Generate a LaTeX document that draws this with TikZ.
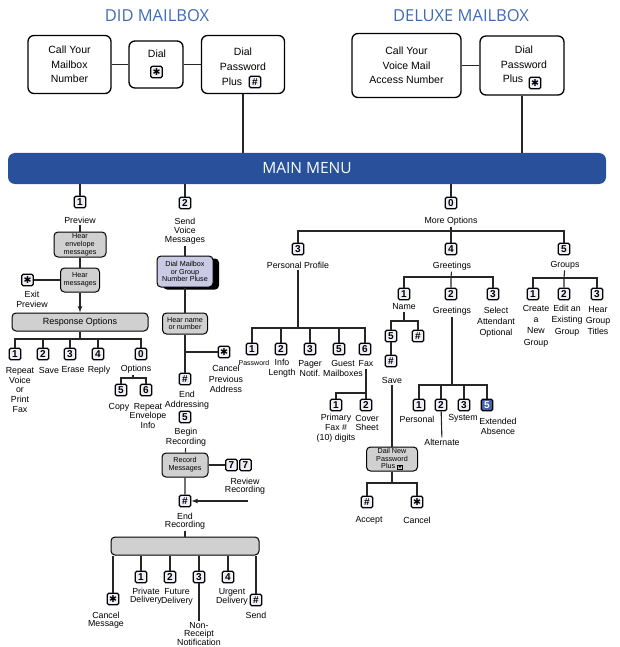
\documentclass[tikz,border=0pt]{standalone}
\usepackage{fontspec}
\setmainfont{Liberation Sans}
\newfontfamily\headfont{Open Sans}
\newfontfamily\symfont{DejaVu Sans}
\usetikzlibrary{shadows}

\definecolor{menublue}{RGB}{40,80,155}
\definecolor{headblue}{RGB}{62,108,180}
\definecolor{boxgray}{RGB}{208,208,208}
\definecolor{dialfill}{RGB}{202,202,228}
\definecolor{keyfill}{RGB}{238,238,246}
\definecolor{keyblue}{RGB}{72,96,172}

\setlength{\fboxsep}{0.6pt}
\setlength{\fboxrule}{0.5pt}
\newcommand{\starkey}{{\symfont\fontsize{9.5}{9.5}\selectfont ✱}}

\tikzset{
  topbox/.style={draw, line width=1.3pt, rounded corners=6pt, fill=white, align=center, inner sep=0pt, font=\fontsize{10.5}{14.7}\selectfont},
  boxtxt/.style={align=center, inner sep=0pt, font=\fontsize{10.5}{14.7}\selectfont},
  keybox/.style={draw, line width=1.3pt, rounded corners=1.5pt, fill=keyfill, minimum size=11.5pt, inner sep=0pt, font=\bfseries\fontsize{10}{10}\selectfont},
  bluekey/.style={keybox, fill=keyblue, text=white},
  graybox/.style={draw, line width=1pt, rounded corners=4pt, fill=boxgray, align=center, inner sep=0pt, font=\fontsize{7.2}{7.8}\selectfont},
  dialbox/.style={graybox, fill=dialfill, drop shadow={shadow xshift=6pt, shadow yshift=-2.5pt, fill=black, opacity=1}},
  lbl/.style={align=center, inner sep=0pt, outer sep=1.5pt, font=\fontsize{8.8}{9.8}\selectfont},
  tight/.style={font=\fontsize{8.8}{8.4}\selectfont},
  heading/.style={text=headblue, font=\headfont\fontsize{16.5}{16.5}\selectfont},
  wire/.style={line width=1.1pt, black!85},
}

\begin{document}
\begin{tikzpicture}[x=1pt,y=-1pt]
\useasboundingbox (0,0) rectangle (620,647);

\node [heading] (tdid) at (157,16) {DID MAILBOX};
\node [heading] (tdlx) at (461,16) {DELUXE MAILBOX};

\node [topbox, minimum width=83pt, minimum height=58pt] (call) at (69.5,64.5) {Call Your\\Mailbox\\Number};
\node [topbox, minimum width=54pt, minimum height=47pt] (dial) at (156,64.5) {};
\node [boxtxt] (tdial) at (157,54) {Dial};
\node [keybox] (kdial) at (156.5,72) {\starkey};
\node [topbox, minimum width=83pt, minimum height=58pt] (dpw) at (243,64.5) {};
\node [boxtxt] (tdpw) at (243,59.5) {Dial\\Password};
\node [boxtxt] (tplus) at (232,82) {Plus};
\node [keybox] (kdpw) at (255,82) {\#};
\draw [wire] (call) -- (dial) -- (dpw);

\node [topbox, minimum width=109pt, minimum height=64pt] (cvm) at (406.5,65.5) {Call Your\\Voice Mail\\Access Number};
\node [topbox, minimum width=84pt, minimum height=59pt] (dpx) at (522,65.5) {};
\node [boxtxt] (tdpx) at (524,57) {Dial\\Password};
\node [boxtxt] (tplx) at (513,79) {Plus};
\node [keybox] (kdpx) at (535,83) {\starkey};
\draw [wire] (cvm) -- (dpx);

\node [fill=menublue, rounded corners=7pt, minimum width=598pt, minimum height=31pt, text=white, font=\headfont\fontsize{15.5}{15.5}\selectfont] (menu) at (307,168.5) {MAIN MENU};
\draw [wire] (dpw) -- (dpw |- menu.north);
\draw [wire] (dpx) -- (dpx |- menu.north);

\node [keybox] (k1p) at (80,202) {1};
\node [lbl] (lprev) at (80,220) {Preview};
\node [graybox, minimum width=52pt, minimum height=25pt] (henv) at (80,244.5) {Hear\\envelope\\messages};
\node [graybox, minimum width=39pt, minimum height=24pt] (hmsg) at (80,280) {Hear\\messages};
\node [keybox] (kexit) at (27.5,280) {\starkey};
\node [lbl] (lexit) at (32,299) {Exit\\Preview};
\node [graybox, minimum width=136pt, minimum height=18pt, font=\fontsize{9}{9}\selectfont] (resp) at (80,322) {Response Options};
\coordinate (bresp) at (80,339);
\node [keybox] (kr1) at (15,354) {1};
\node [keybox] (kr2) at (43,354) {2};
\node [keybox] (kr3) at (70,354) {3};
\node [keybox] (kr4) at (98,354) {4};
\node [keybox] (kr0) at (141,354) {0};
\node [lbl] (lrep) at (20,390) {Repeat\\Voice\\or\\Print\\Fax};
\node [lbl] (lsave) at (49,370) {Save};
\node [lbl] (lerase) at (73,370) {Erase};
\node [lbl] (lreply) at (99,370) {Reply};
\node [lbl] (lopt) at (136,369) {Options};
\coordinate (bopt) at (133,378);
\node [keybox] (kc5) at (121,390) {5};
\node [keybox] (kc6) at (146,390) {6};
\node [lbl] (lcopy) at (119,407) {Copy};
\node [lbl] (lrenv) at (148,416) {Repeat\\Envelope\\Info};
\draw [wire] (menu.south -| k1p) -- (k1p);
\draw [wire] (lprev) -- (henv) -- (hmsg) -- (kexit);
\draw [wire, -latex] (hmsg) -- (resp);
\draw [wire] (resp) -- (bresp);
\draw [wire] (kr1) |- (bresp) -| (kr0);
\draw [wire] (kr2) -- (kr2 |- bresp);
\draw [wire] (kr3) -- (kr3 |- bresp);
\draw [wire] (kr4) -- (kr4 |- bresp);
\draw [wire] (lopt.south -| bopt) -- (bopt);
\draw [wire] (kc5) |- (bopt) -| (kc6);

\node [keybox] (k2) at (185,203) {2};
\node [lbl, font=\fontsize{8.8}{9.2}\selectfont] (lsend) at (185,231) {Send\\Voice\\Messages};
\node [dialbox, minimum width=56pt, minimum height=31pt] (dmb) at (185,271.5) {Dial Mailbox\\or Group\\Number Pluse};
\node [graybox, minimum width=45pt, minimum height=21pt] (hn) at (185,323.5) {Hear name\\or number};
\coordinate (bhn) at (185,352);
\node [keybox] (kcan) at (224,352) {\starkey};
\node [lbl, font=\fontsize{8.8}{10.8}\selectfont] (lcan) at (226,379) {Cancel\\Previous\\Address};
\node [keybox] (kea) at (185,379) {\#};
\node [lbl] (lea) at (187,400.5) {End\\Addressing};
\node [keybox] (kbr) at (185,417) {5};
\node [lbl] (lbr) at (186,437.5) {Begin\\Recording};
\node [graybox, minimum width=46pt, minimum height=24pt] (recm) at (185,465) {Record\\Messages};
\node [keybox] (k7a) at (231.5,465) {7};
\node [keybox] (k7b) at (245.5,465) {7};
\node [lbl, tight] (lrev) at (245,486.5) {Review\\Recording};
\node [keybox] (kend) at (185,501) {\#};
\coordinate (arrin) at (248,501);
\node [lbl, tight] (lend) at (185,521.5) {End\\Recording};
\node [graybox, minimum width=148pt, minimum height=18pt] (sbox) at (185,546) {};
\node [keybox] (kcm) at (113,599) {\starkey};
\node [lbl, tight] (lcm) at (106,620) {Cancel\\Message};
\node [keybox] (ks1) at (141,577) {1};
\node [lbl, tight] (lpd) at (146,596.5) {Private\\Delivery};
\node [keybox] (ks2) at (170,577) {2};
\node [lbl, tight] (lfd) at (177,597) {Future\\Delivery};
\node [keybox] (ks3) at (199,577) {3};
\node [lbl, tight] (lnr) at (199,634) {Non-\\Receipt\\Notification};
\node [keybox] (ks4) at (228,577) {4};
\node [lbl, tight] (lud) at (232,597) {Urgent\\Delivery};
\node [keybox] (ksnd) at (256,600) {\#};
\node [lbl] (lsnd) at (256,615) {Send};
\draw [wire] (menu.south -| k2) -- (k2);
\draw [wire] (lsend) -- (dmb) -- (hn) -- (kea);
\draw [wire] (bhn) -- (kcan);
\draw [wire] (lbr) -- (recm) -- (kend);
\draw [wire] (recm) -- (k7a);
\draw [wire, -latex] (arrin) -- (kend);
\draw [wire] (lend) -- (sbox);
\draw [wire] (sbox.south -| kcm) -- (kcm);
\draw [wire] (sbox.south -| ks1) -- (ks1);
\draw [wire] (sbox.south -| ks2) -- (ks2);
\draw [wire] (sbox.south -| ks3) -- (ks3) -- (lnr);
\draw [wire] (sbox.south -| ks4) -- (ks4);
\draw [wire] (sbox.south -| ksnd) -- (ksnd);

\node [keybox] (k0) at (451,203) {0};
\node [lbl] (lmore) at (451,221) {More Options};
\coordinate (bmore) at (451,231);
\node [keybox] (k3p) at (298,249) {3};
\node [lbl] (lpp) at (298,265) {Personal Profile};
\node [keybox] (k4g) at (451,249) {4};
\node [lbl] (lgr) at (452,266) {Greetings};
\node [keybox] (k5g) at (564,249) {5};
\node [lbl] (lgrp) at (565,265) {Groups};
\draw [wire] (menu.south -| k0) -- (k0);
\draw [wire] (lmore) -- (k4g);
\draw [wire] (k3p) |- (bmore) -| (k5g);

\coordinate (bpp) at (298,328);
\node [keybox] (kp1) at (252,349) {1};
\node [keybox] (kp2) at (281,349) {2};
\node [keybox] (kp3) at (310,349) {3};
\node [keybox] (kp5) at (339,349) {5};
\node [keybox] (kp6) at (365,349) {6};
\node [lbl, font=\fontsize{7}{8}\selectfont] (lpw) at (254,363) {Password};
\node [lbl] (lil) at (282,368.5) {Info\\Length};
\node [lbl] (lpn) at (310,368.5) {Pager\\Notif.};
\node [lbl] (lgm) at (343,368.5) {Guest\\Mailboxes};
\node [lbl] (lfax) at (366,364) {Fax};
\coordinate (bfax) at (366,393);
\node [keybox] (kf1) at (336,405) {1};
\node [keybox] (kf2) at (366,405) {2};
\node [lbl] (lprim) at (336,428) {Primary\\Fax \#\\(10) digits};
\node [lbl] (lcov) at (367,423) {Cover\\Sheet};
\draw [wire] (lpp) -- (bpp);
\draw [wire] (kp1) |- (bpp) -| (kp6);
\draw [wire] (kp2) -- (kp2 |- bpp);
\draw [wire] (kp3) -- (kp3 |- bpp);
\draw [wire] (kp5) -- (kp5 |- bpp);
\draw [wire] (lfax) -- (bfax) -- (kf2);
\draw [wire] (kf1) |- (bfax);

\coordinate (bgr) at (451,277);
\node [keybox] (kn1) at (404,294) {1};
\node [keybox] (kg2) at (451,294) {2};
\node [keybox] (kg3) at (493,294) {3};
\node [lbl] (lname) at (404,307) {Name};
\node [lbl] (lgr2) at (452,311) {Greetings};
\node [lbl, font=\fontsize{8.8}{11}\selectfont] (lsel) at (496,322) {Select\\Attendant\\Optional};
\draw [wire] (lgr) -- (bgr) -- (kg2);
\draw [wire] (kn1) |- (bgr) -| (kg3);

\coordinate (bname) at (404,321);
\node [keybox] (kn5) at (391,336) {5};
\node [keybox] (knh) at (418,336) {\#};
\node [keybox] (kns) at (391,361) {\#};
\node [lbl] (lsv) at (392,380) {Save};
\node [graybox, minimum width=51pt, minimum height=24pt] (dnp) at (392,459) {Dail New\\Password\\Plus \fbox{\symfont\fontsize{4}{4}\selectfont ✱}};
\coordinate (bdnp) at (392,483);
\node [keybox] (kacc) at (367,502) {\#};
\node [keybox] (kcnc) at (417,502) {\starkey};
\node [lbl] (lacc) at (369,520) {Accept};
\node [lbl] (lcnc) at (417,520) {Cancel};
\draw [wire] (lname) -- (bname);
\draw [wire] (kn5) |- (bname) -| (knh);
\draw [wire] (kn5) -- (kns);
\draw [wire] (lsv) -- (dnp) -- (bdnp);
\draw [wire] (kacc) |- (bdnp) -| (kcnc);

\coordinate (bgr2) at (452,385);
\node [keybox] (kgp1) at (419,405) {1};
\node [keybox] (kgp2) at (441,405) {2};
\node [keybox] (kgp3) at (464,405) {3};
\node [bluekey] (kgp5) at (487,405) {5};
\node [lbl] (lpers) at (417,419) {Personal};
\node [lbl] (lsys) at (463,418) {System};
\node [lbl] (lext) at (498,426.5) {Extended\\Absence};
\node [lbl] (lalt) at (442,442) {Alternate};
\draw [wire] (lgr2) -- (bgr2);
\draw [wire] (kgp1) |- (bgr2) -| (kgp5);
\draw [wire] (kgp2) -- (kgp2 |- bgr2);
\draw [wire] (kgp3) -- (kgp3 |- bgr2);
\draw [wire] (kgp2) -- (lalt);

\coordinate (bgrp) at (564,278);
\node [keybox] (kc1) at (533,294) {1};
\node [keybox] (kc2) at (564,294) {2};
\node [keybox] (kc3) at (597,294) {3};
\node [lbl, font=\fontsize{8.8}{11.3}\selectfont] (lcr) at (536,326) {Create\\a\\New\\Group};
\node [lbl, font=\fontsize{8.8}{11.3}\selectfont] (led) at (567,320.5) {Edit an\\Existing\\Group};
\node [lbl, font=\fontsize{8.8}{11.3}\selectfont] (lhg) at (598,320.5) {Hear\\Group\\Titles};
\draw [wire] (lgrp) -- (bgrp) -- (kc2);
\draw [wire] (kc1) |- (bgrp) -| (kc3);
\end{tikzpicture}
\end{document}
